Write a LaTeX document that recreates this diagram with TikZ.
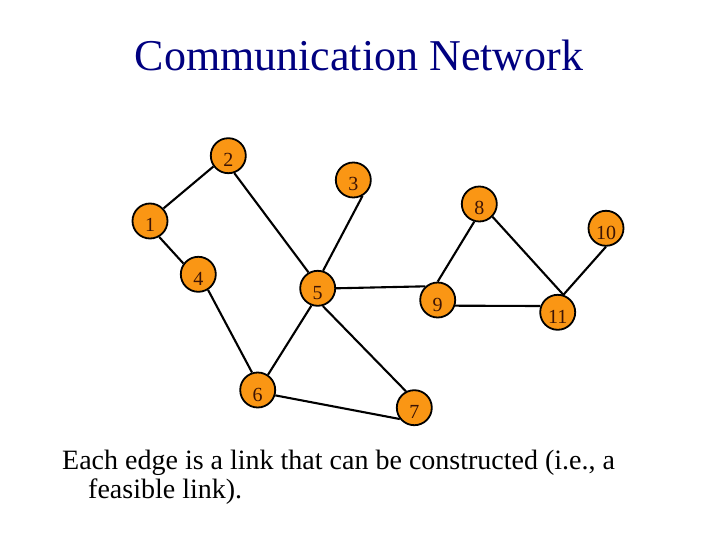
\documentclass[tikz,border=0pt]{standalone}
\usepackage{fontspec}
\setmainfont{Liberation Serif}
\definecolor{nodeorange}{RGB}{250,150,20}
\definecolor{labelbrown}{RGB}{60,20,5}
\definecolor{titleblue}{RGB}{0,0,128}
\newcommand{\vlab}[1]{\raisebox{-11bp}[0pt][0pt]{#1}}
\tikzset{
  vertex/.style={circle, draw=black, line width=1.8bp, fill=nodeorange,
    minimum size=35bp, inner sep=0pt, text=labelbrown,
    font=\fontsize{20bp}{22bp}\selectfont},
  link/.style={line width=2.1bp, draw=black},
  titletext/.style={text=titleblue, font=\fontsize{44bp}{50bp}\selectfont, inner sep=0pt},
  bodytext/.style={text=black, font=\fontsize{28bp}{29bp}\selectfont, inner sep=0pt, align=left}
}
\begin{document}
\begin{tikzpicture}[x=1bp,y=-1bp]
\useasboundingbox (0,0) rectangle (720,540);
\node[titletext, anchor=base] (title) at (359,71) {Communication Network};

\node[vertex] (n1) at (150,221) {\vlab{1}};
\node[vertex] (n2) at (228.3,155.7) {\vlab{2}};
\node[vertex] (n3) at (353.3,180) {\vlab{3}};
\node[vertex] (n4) at (198.3,274.3) {\vlab{4}};
\node[vertex] (n5) at (317.7,288.3) {\vlab{5}};
\node[vertex] (n6) at (257.7,390) {\vlab{6}};
\node[vertex] (n7) at (414.3,407.7) {\vlab{7}};
\node[vertex] (n8) at (479.3,204) {\vlab{8}};
\node[vertex] (n9) at (437.7,300) {\vlab{9}};
\node[vertex] (n10) at (606,228.3) {\vlab{10}};
\node[vertex] (n11) at (557.7,312.3) {\vlab{11}};

\draw[link] (n1.43) -- (n2.216);
\draw[link] (n1.-60) -- (n4.144);
\draw[link] (n2.-71) -- (n5.120);
\draw[link] (n3.-60) -- (n5.73);
\draw[link] (n4.-58) -- (n6.108);
\draw[link] (n5.250) -- (n6.56);
\draw[link] (n5.-74) -- (n7.117);
\draw[link] (n5.east) -- (n9.132);
\draw[link] (n6.-17) -- (n7.218);
\draw[link] (n8.254) -- (n9.north);
\draw[link] (n8.-44) -- (n11.72);
\draw[link] (n9.-18) -- (n11.160);
\draw[link] (n10.south) -- (n11.72);

\node[bodytext, anchor=base west] (body) at (62,498)
  {Each edge is a link that can be constructed (i.e., a\\\hspace*{26bp}feasible link).};
\end{tikzpicture}
\end{document}
